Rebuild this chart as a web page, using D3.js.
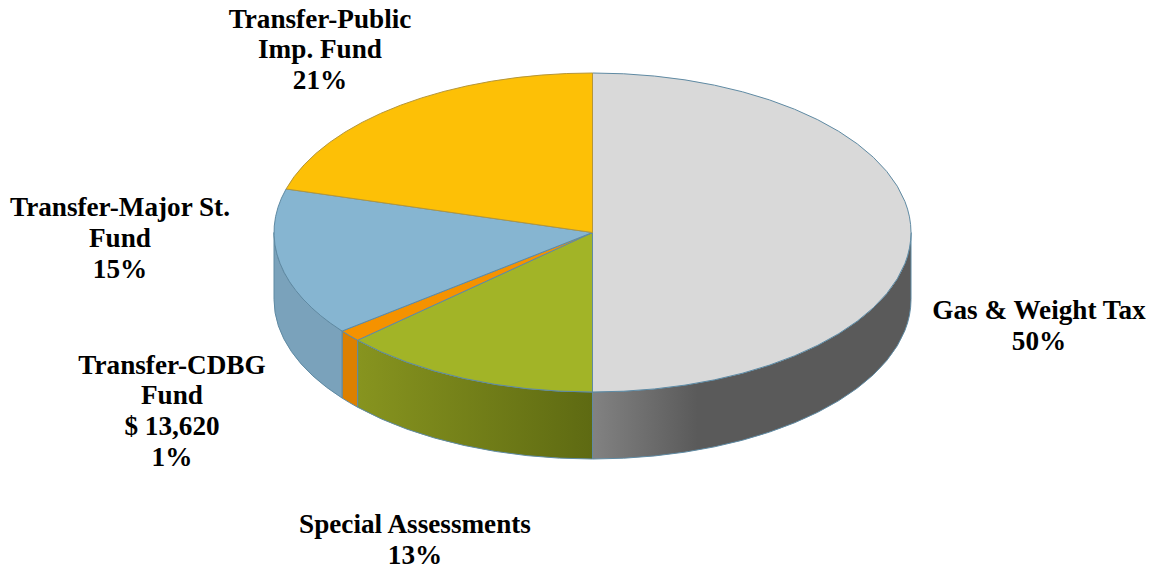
<!DOCTYPE html>
<html><head><meta charset="utf-8">
<script src="https://cdn.jsdelivr.net/npm/d3@7/dist/d3.min.js"></script>
<style>html,body{margin:0;padding:0;background:#fff}svg{display:block}
text{font-family:"Liberation Serif","Times New Roman",serif;font-weight:bold;font-size:27.2px;fill:#000;text-anchor:middle}</style>
</head><body><div id="c"></div>
<script>
const categories = ["Gas & Weight Tax","Special Assessments","Transfer-CDBG Fund","Transfer-Major St. Fund","Transfer-Public Imp. Fund"];
const shares = [50, 13.2, 1.2, 15, 20.6];
const labelLines = [
  ["Gas & Weight Tax","50%"],
  ["Special Assessments","13%"],
  ["Transfer-CDBG","Fund","$ 13,620","1%"],
  ["Transfer-Major St.","Fund","15%"],
  ["Transfer-Public","Imp. Fund","21%"]
];
const topColors = ["#d9d9d9","#a2b427","#f59200","#86b5d1","#fdc006"];
const wallStops = [
  ["#828282","#5a5a5a"],
  ["#87941f","#5e6a12"],
  ["#dd8000","#dd8000"],
  ["#7aa2bb","#7aa2bb"],
  ["#7aa2bb","#7aa2bb"]
];

const W=1153,H=569,cx=592.5,cy=232.5,rx=318.5,ry=159.5,depth=67;
const labelPlace=[[1039,319],[415,533],[172,373.5],[120,216],[320,27.5]];
const lineStep=30.9;

const svg=d3.select("#c").append("svg").attr("width",W).attr("height",H);
const defs=svg.append("defs");
const pie=d3.pie().sort(null).value(d=>d);
const arcs=pie(shares);

const px=a=>cx+rx*Math.sin(a), py=a=>cy-ry*Math.cos(a);
const lo=Math.PI/2, hi=3*Math.PI/2;
const edge="#5f8aa3";

// side walls: only the front half of the disc shows
const walls=svg.append("g");
arcs.forEach((d,i)=>{
  const a0=Math.max(d.startAngle,lo), a1=Math.min(d.endAngle,hi);
  if(a1<=a0) return;
  const id="w"+i;
  const x0=Math.min(px(a0),px(a1)), x1=Math.max(px(a0),px(a1));
  const g=defs.append("linearGradient").attr("id",id).attr("gradientUnits","userSpaceOnUse")
    .attr("x1",x0).attr("x2",i===0?x0+105:x1).attr("y1",0).attr("y2",0);
  g.append("stop").attr("offset",0).attr("stop-color",wallStops[i][0]);
  g.append("stop").attr("offset",1).attr("stop-color",wallStops[i][1]);
  const p=`M${px(a0)},${py(a0)}A${rx},${ry} 0 0 1 ${px(a1)},${py(a1)}`+
          `L${px(a1)},${py(a1)+depth}A${rx},${ry} 0 0 0 ${px(a0)},${py(a0)+depth}Z`;
  walls.append("path").attr("d",p).attr("fill",`url(#${id})`).attr("stroke",edge).attr("stroke-width",1);
});

// top face
const arc=d3.arc().innerRadius(0).outerRadius(rx);
const face=svg.append("g").attr("transform",`translate(${cx},${cy}) scale(1,${ry/rx})`);
face.selectAll("path").data(arcs).join("path")
  .attr("d",arc)
  .attr("fill",(d,i)=>topColors[i])
  .attr("stroke",(d,i)=>i===4?"#b5963a":edge)
  .attr("stroke-width",1)
  .attr("vector-effect","non-scaling-stroke");

// labels
const tx=svg.append("g");
labelLines.forEach((lines,i)=>{
  const t=tx.append("text").attr("x",labelPlace[i][0]).attr("y",labelPlace[i][1]);
  lines.forEach((s,j)=>t.append("tspan").attr("x",labelPlace[i][0]).attr("dy",j?lineStep:0).text(s));
});
</script></body></html>
